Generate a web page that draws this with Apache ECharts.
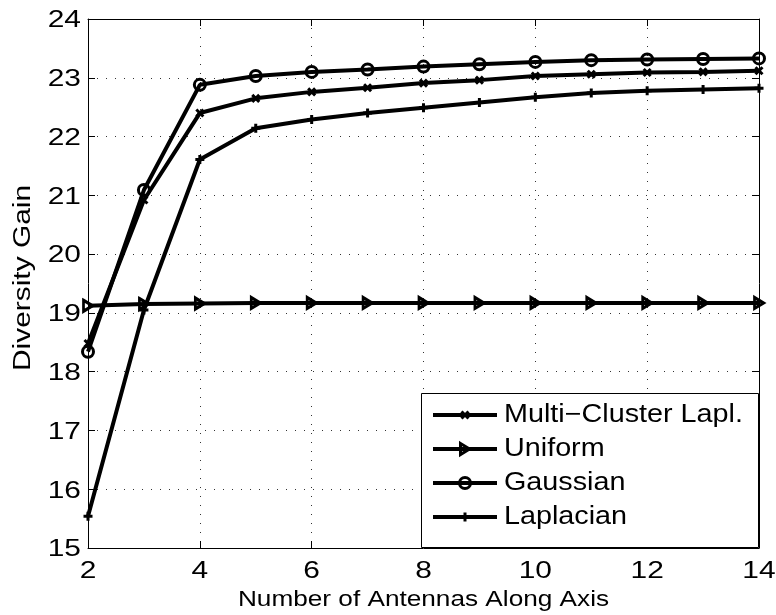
<!DOCTYPE html>
<html>
<head>
<meta charset="utf-8">
<script src="https://cdn.jsdelivr.net/npm/echarts@6/dist/echarts.min.js"></script>
<style>
  html, body { margin: 0; padding: 0; background: #fff; }
  #chart { width: 776px; height: 615px; }
</style>
</head>
<body>
<div id="chart"></div>
<script>
// Number of antennas along each axis
const antennas = [2, 3, 4, 5, 6, 7, 8, 9, 10, 11, 12, 13, 14];

// Diversity gain per angular spread model
const multiCluster = [18.48, 20.92, 22.40, 22.65, 22.76, 22.83, 22.91, 22.96, 23.03, 23.06, 23.09, 23.10, 23.12];
const uniform      = [19.12, 19.15, 19.16, 19.17, 19.17, 19.17, 19.17, 19.17, 19.17, 19.17, 19.17, 19.17, 19.17];
const gaussian     = [18.34, 21.09, 22.88, 23.03, 23.10, 23.14, 23.19, 23.23, 23.27, 23.30, 23.31, 23.32, 23.33];
const laplacian    = [15.54, 19.05, 21.61, 22.14, 22.29, 22.40, 22.49, 22.58, 22.67, 22.74, 22.78, 22.80, 22.82];

const seriesNames = ['Multi\u2212Cluster Lapl.', 'Uniform', 'Gaussian', 'Laplacian'];
const xTicks = [2, 4, 6, 8, 10, 12, 14];
const yTicks = [15, 16, 17, 18, 19, 20, 21, 22, 23, 24];
const xTitle = 'Number of Antennas Along Axis';
const yTitle = 'Diversity Gain';

const FONT = '"Liberation Sans", Arial, Helvetica, sans-serif';

const SYM_X = 'path://M0,0L10,10M10,0L0,10';
const SYM_TRI = 'path://M0,0L10,5L0,10Z';
const SYM_PLUS = 'path://M5,0L5,10M0,5L10,5';

const markers = [
  { kind: 'x', symbol: SYM_X, size: 7 },
  { kind: 'tri', symbol: SYM_TRI, size: [9, 11] },
  { kind: 'circle', symbol: 'circle', size: 11 },
  { kind: 'plus', symbol: SYM_PLUS, size: 9 }
];
const seriesValues = [multiCluster, uniform, gaussian, laplacian];

const LINE_W = 4;
const MARK_W = 3;

function pairs(vals) {
  return antennas.map((a, i) => [a, vals[i]]);
}

const chart = echarts.init(document.getElementById('chart'));

const gridLine = { show: true, lineStyle: { color: '#333', width: 1, type: [1, 8] } };
const frameAxis = {
  axisLine: { show: true, lineStyle: { color: '#000', width: 1 } },
  axisTick: { show: true, inside: true, length: 7, lineStyle: { color: '#000' } }
};

chart.setOption({
  backgroundColor: '#fff',
  animation: false,
  grid: { left: 88, right: 17, top: 19, bottom: 67, containLabel: false },
  xAxis: [
    Object.assign({ type: 'value', min: 2, max: 14, interval: 2,
      axisLabel: { show: false }, splitLine: gridLine }, frameAxis),
    Object.assign({ type: 'value', min: 2, max: 14, interval: 2, position: 'top',
      axisLabel: { show: false }, splitLine: { show: false } }, frameAxis)
  ],
  yAxis: [
    Object.assign({ type: 'value', min: 15, max: 24, interval: 1,
      axisLabel: { show: false }, splitLine: gridLine }, frameAxis),
    Object.assign({ type: 'value', min: 15, max: 24, interval: 1, position: 'right',
      axisLabel: { show: false }, splitLine: { show: false } }, frameAxis)
  ],
  series: seriesNames.map((name, i) => ({
    name: name,
    type: 'line',
    data: pairs(seriesValues[i]),
    symbol: markers[i].symbol,
    symbolSize: markers[i].size,
    showAllSymbol: true,
    clip: false,
    lineStyle: { color: '#000', width: LINE_W },
    itemStyle: { color: 'none', borderColor: '#000', borderWidth: MARK_W },
    emphasis: { disabled: true },
    z: 3
  }))
});

// Text drawn as graphic elements so the lettering can be set wide.
function label(text, x, y, size, align, stretch, extra) {
  return Object.assign({
    type: 'text', x: x, y: y, scaleX: stretch, z: 10,
    style: { text: text, font: size + 'px ' + FONT, fill: '#000',
             align: align, verticalAlign: 'middle' }
  }, extra || {});
}

const g = [];
const xAxisY = chart.convertToPixel({ yAxisIndex: 0 }, 15);
const yAxisX = chart.convertToPixel({ xAxisIndex: 0 }, 2);
const plotTop = chart.convertToPixel({ yAxisIndex: 0 }, 24);
const plotRight = chart.convertToPixel({ xAxisIndex: 0 }, 14);

xTicks.forEach(v => {
  g.push(label(String(v), chart.convertToPixel({ xAxisIndex: 0 }, v), xAxisY + 24, 23, 'center', 1.3));
});
yTicks.forEach(v => {
  g.push(label(String(v), yAxisX - 7, chart.convertToPixel({ yAxisIndex: 0 }, v) + 2, 23, 'right', 1.3));
});

g.push(label(xTitle, (yAxisX + plotRight) / 2, 600, 22, 'center', 1.19));
g.push(label(yTitle, 24, 278, 23, 'center', 1.3, { rotation: Math.PI / 2 }));

// Legend box
const LG = { left: 421, top: 393, width: 337, height: 154, rows: [415, 449, 483, 517],
             lineX0: 433, lineX1: 497, textX: 504 };
g.push({ type: 'rect', z: 8,
  shape: { x: LG.left + 0.5, y: LG.top + 0.5, width: LG.width, height: LG.height },
  style: { fill: '#fff', stroke: '#000', lineWidth: 1 } });

function legendMarker(i, cx, cy) {
  const m = markers[i];
  const st = { fill: 'none', stroke: '#000', lineWidth: MARK_W };
  if (m.kind === 'circle') {
    return [{ type: 'circle', z: 9, shape: { cx: cx, cy: cy, r: m.size / 2 }, style: st }];
  }
  if (m.kind === 'tri') {
    const w = m.size[0] / 2, h = m.size[1] / 2;
    return [{ type: 'polygon', z: 9,
      shape: { points: [[cx - w, cy - h], [cx + w, cy], [cx - w, cy + h]] }, style: st }];
  }
  const r = m.size / 2;
  if (m.kind === 'x') {
    return [
      { type: 'line', z: 9, shape: { x1: cx - r, y1: cy - r, x2: cx + r, y2: cy + r }, style: st },
      { type: 'line', z: 9, shape: { x1: cx + r, y1: cy - r, x2: cx - r, y2: cy + r }, style: st }
    ];
  }
  return [
    { type: 'line', z: 9, shape: { x1: cx, y1: cy - r, x2: cx, y2: cy + r }, style: st },
    { type: 'line', z: 9, shape: { x1: cx - r, y1: cy, x2: cx + r, y2: cy }, style: st }
  ];
}

seriesNames.forEach((name, i) => {
  const y = LG.rows[i];
  g.push({ type: 'line', z: 9, shape: { x1: LG.lineX0, y1: y, x2: LG.lineX1, y2: y },
    style: { stroke: '#000', lineWidth: LINE_W } });
  legendMarker(i, (LG.lineX0 + LG.lineX1) / 2, y).forEach(el => g.push(el));
  g.push(label(name, LG.textX, y, 25, 'left', 1.15));
});

chart.setOption({ graphic: g });
</script>
</body>
</html>
